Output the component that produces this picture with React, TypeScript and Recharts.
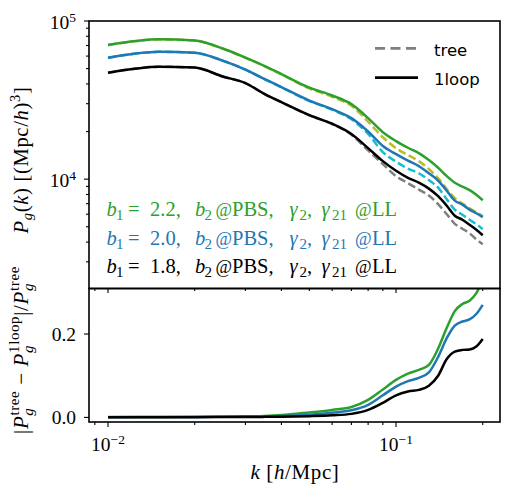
import { LineChart, Line, XAxis, YAxis } from 'recharts';

// k [h/Mpc] sampling
const kValues = [
  0.01, 0.0125, 0.015, 0.02, 0.025, 0.03, 0.035, 0.04, 0.05, 0.06, 0.07, 0.08,
  0.09, 0.1, 0.11, 0.12, 0.13, 0.14, 0.15, 0.16, 0.17, 0.18, 0.19, 0.2,
];

// P_g(k) one-loop
const loopB22 = [70500, 74700, 76600, 75300, 67000, 58700, 51900, 46200, 37900, 33800, 29800, 24300, 19800, 17400, 15800, 14600, 13200, 11800, 10450, 9500, 8970, 8520, 7980, 7360];
const loopB20 = [58600, 62300, 63900, 63000, 56200, 49300, 42900, 38200, 31400, 27700, 24300, 20000, 16200, 14400, 13100, 12100, 10900, 9780, 8450, 7310, 6900, 6420, 6090, 5750];
const loopB18 = [47100, 50000, 51400, 50800, 44600, 40500, 34500, 30700, 25400, 22400, 19300, 15700, 13000, 11300, 10200, 9500, 8710, 7800, 6790, 5870, 5540, 5150, 4790, 4420];

// P_g(k) tree level
const treeB22 = [70400, 74600, 76500, 75200, 66900, 58550, 51700, 45950, 37450, 33200, 29100, 23100, 18400, 15700, 14200, 13000, 11600, 10150, 8650, 7590, 7000, 6550, 6180, 5830];
const treeB20 = [58550, 62250, 63850, 62900, 56100, 49200, 42800, 38050, 31200, 27500, 23900, 19300, 14830, 12900, 11650, 10900, 9860, 8840, 7470, 6410, 5960, 5540, 5190, 4830];
const treeB18 = [47080, 49980, 51380, 50770, 44560, 40460, 34450, 30650, 25320, 22330, 19100, 15200, 12450, 10440, 9430, 8590, 7870, 6950, 6000, 5220, 4860, 4550, 4170, 3880];

// |P_tree - P_1loop| / P_tree
const diffB22 = [0.0008, 0.0009, 0.001, 0.0013, 0.0018, 0.0025, 0.0035, 0.0055, 0.012, 0.018, 0.025, 0.042, 0.067, 0.09, 0.105, 0.114, 0.126, 0.165, 0.215, 0.255, 0.272, 0.28, 0.298, 0.33];
const diffB20 = [0.0006, 0.0007, 0.0008, 0.001, 0.0013, 0.0018, 0.0024, 0.0035, 0.0065, 0.011, 0.017, 0.03, 0.053, 0.074, 0.087, 0.095, 0.108, 0.145, 0.19, 0.22, 0.23, 0.235, 0.248, 0.27];
const diffB18 = [0.0004, 0.0005, 0.0005, 0.0006, 0.0008, 0.001, 0.0013, 0.0017, 0.003, 0.005, 0.0085, 0.018, 0.035, 0.053, 0.062, 0.066, 0.076, 0.1, 0.14, 0.158, 0.162, 0.163, 0.17, 0.188];

const xTicks = [0.009, 0.01, 0.02, 0.03, 0.04, 0.05, 0.06, 0.07, 0.08, 0.09, 0.1, 0.2];
const xMajor: Record<number, string> = { 0.01: '\u22122', 0.1: '\u22121' };
const pTicks = [3000, 4000, 5000, 6000, 7000, 8000, 9000, 10000, 20000, 30000, 40000, 50000, 60000, 70000, 80000, 90000, 100000];
const pMajor: Record<number, string> = { 10000: '4', 100000: '5' };
const rTicks = [0, 0.2];

const topData = kValues.map((k, i) => ({
  k,
  loop22: loopB22[i], loop20: loopB20[i], loop18: loopB18[i],
  tree22: treeB22[i], tree20: treeB20[i], tree18: treeB18[i],
}));
const bottomData = kValues.map((k, i) => ({ k, d22: diffB22[i], d20: diffB20[i], d18: diffB18[i] }));

const SERIF = '"Liberation Serif", "DejaVu Serif", serif';
const SANS = '"DejaVu Sans", sans-serif';
const GREEN = '#2ca02c';
const BLUE = '#1f77b4';
const X_DOMAIN: [number, number] = [0.00859, 0.2296];

function xTick(props: any, withLabel: boolean) {
  const { x, y, payload } = props;
  const exp = xMajor[payload.value];
  return (
    <g>
      <line x1={x} x2={x} y1={y} y2={y + (exp ? 5 : 3)} stroke="#000" strokeWidth={1.1} />
      {withLabel && exp && (
        <text x={x} y={y + 29} textAnchor="middle" fontFamily={SERIF} fontSize={19.5} fill="#000">
          10<tspan dy={-7} fontSize={13.5}>{exp}</tspan>
        </text>
      )}
    </g>
  );
}

function pTick(props: any) {
  const { x, y, payload } = props;
  const exp = pMajor[payload.value];
  return (
    <g>
      <line x1={x - (exp ? 5 : 3)} x2={x} y1={y} y2={y} stroke="#000" strokeWidth={1.1} />
      {exp && (
        <text x={x - 13} y={y + 8} textAnchor="end" fontFamily={SERIF} fontSize={19.5} fill="#000">
          10<tspan dy={-7} fontSize={13.5}>{exp}</tspan>
        </text>
      )}
    </g>
  );
}

function rTick(props: any) {
  const { x, y, payload } = props;
  return (
    <g>
      <line x1={x - 5} x2={x} y1={y} y2={y} stroke="#000" strokeWidth={1.1} />
      <text x={x - 13} y={y + 6.5} textAnchor="end" fontFamily={SERIF} fontSize={19.5} fill="#000">
        {payload.value.toFixed(1)}
      </text>
    </g>
  );
}

function Annotation({ y, b1, color }: { y: number; b1: string; color: string }) {
  const sub = y + 4;
  return (
    <text fontFamily={SERIF} fontSize={20.5} fill={color}>
      <tspan x={106.5} y={y} fontStyle="italic">b</tspan>
      <tspan x={116} y={sub} fontSize={15}>1</tspan>
      <tspan x={128} y={y}>=</tspan>
      <tspan x={150} y={y}>{`${b1},`}</tspan>
      <tspan x={195} y={y} fontStyle="italic">b</tspan>
      <tspan x={204.5} y={sub} fontSize={15}>2</tspan>
      <tspan x={215.5} y={y} fontSize={18}>@</tspan>
      <tspan x={232} y={y}>PBS,</tspan>
      <tspan x={289.5} y={y} fontStyle="italic">γ</tspan>
      <tspan x={299.5} y={sub} fontSize={15}>2</tspan>
      <tspan x={307} y={y}>,</tspan>
      <tspan x={321.5} y={y} fontStyle="italic">γ</tspan>
      <tspan x={332} y={sub} fontSize={15}>21</tspan>
      <tspan x={355} y={y} fontSize={18}>@</tspan>
      <tspan x={372} y={y}>LL</tspan>
    </text>
  );
}

export default function App() {
  const lw = 2.5;
  const dash = '8 3.5';
  return (
    <div style={{ position: 'absolute', left: 0, top: 0, width: 523, height: 500, background: '#fff' }}>
      <div style={{ position: 'absolute', left: 0, top: 0 }}>
        <LineChart width={523} height={300} data={topData} margin={{ top: 21, right: 23, bottom: 0, left: 0 }}>
          <XAxis
            dataKey="k" type="number" scale="log" domain={X_DOMAIN} allowDataOverflow
            ticks={xTicks} interval={0} height={12} tickSize={0} tickMargin={0}
            axisLine={false} tickLine={false} tick={(p: any) => xTick(p, false)}
          />
          <YAxis
            type="number" scale="log" domain={[2050, 100000]} allowDataOverflow
            ticks={pTicks} interval={0} width={89} tickSize={0} tickMargin={0}
            axisLine={false} tickLine={false} tick={pTick}
          />
          <Line dataKey="tree22" stroke="#bcbd22" strokeWidth={lw} strokeDasharray={dash} dot={false} type="monotone" isAnimationActive={false} />
          <Line dataKey="tree20" stroke="#17becf" strokeWidth={lw} strokeDasharray={dash} dot={false} type="monotone" isAnimationActive={false} />
          <Line dataKey="tree18" stroke="#7f7f7f" strokeWidth={lw} strokeDasharray={dash} dot={false} type="monotone" isAnimationActive={false} />
          <Line dataKey="loop22" stroke={GREEN} strokeWidth={lw} dot={false} type="monotone" isAnimationActive={false} />
          <Line dataKey="loop20" stroke={BLUE} strokeWidth={lw} dot={false} type="monotone" isAnimationActive={false} />
          <Line dataKey="loop18" stroke="#000" strokeWidth={lw} dot={false} type="monotone" isAnimationActive={false} />
        </LineChart>
      </div>
      <div style={{ position: 'absolute', left: 0, top: 280 }}>
        <LineChart width={523} height={220} data={bottomData} margin={{ top: 9, right: 23, bottom: 0, left: 0 }}>
          <XAxis
            dataKey="k" type="number" scale="log" domain={X_DOMAIN} allowDataOverflow
            ticks={xTicks} interval={0} height={78} tickSize={0} tickMargin={0}
            axisLine={false} tickLine={false} tick={(p: any) => xTick(p, true)}
          />
          <YAxis
            type="number" domain={[-0.011, 0.308]} allowDataOverflow
            ticks={rTicks} interval={0} width={89} tickSize={0} tickMargin={0}
            axisLine={false} tickLine={false} tick={rTick}
          />
          <Line dataKey="d22" stroke={GREEN} strokeWidth={lw} dot={false} type="monotone" isAnimationActive={false} />
          <Line dataKey="d20" stroke={BLUE} strokeWidth={lw} dot={false} type="monotone" isAnimationActive={false} />
          <Line dataKey="d18" stroke="#000" strokeWidth={lw} dot={false} type="monotone" isAnimationActive={false} />
        </LineChart>
      </div>
      <svg width={523} height={500} style={{ position: 'absolute', left: 0, top: 0, pointerEvents: 'none' }}>
        <rect x={89} y={21} width={411} height={267.5} fill="none" stroke="#000" strokeWidth={1.6} />
        <rect x={89} y={288.5} width={411} height={133.5} fill="none" stroke="#000" strokeWidth={1.6} />

        <line x1={375} x2={418} y1={48.3} y2={48.3} stroke="#7f7f7f" strokeWidth={2.7} strokeDasharray="10 5.5" />
        <text x={434} y={56} fontFamily={SANS} fontSize={16.5} fill="#000">tree</text>
        <line x1={375} x2={418} y1={77.7} y2={77.7} stroke="#000" strokeWidth={2.7} />
        <text x={434} y={85} fontFamily={SANS} fontSize={16.5} fill="#000">1loop</text>

        <Annotation y={216} b1="2.2" color={GREEN} />
        <Annotation y={245} b1="2.0" color={BLUE} />
        <Annotation y={273} b1="1.8" color="#000" />

        <text transform="translate(28,160) rotate(-90)" textAnchor="middle" fontFamily={SERIF} fontSize={20.5} letterSpacing={0.7} fill="#000">
          <tspan fontStyle="italic">P</tspan>
          <tspan dy={4} fontSize={14.5} fontStyle="italic">g</tspan>
          <tspan dy={-4}>(</tspan>
          <tspan fontStyle="italic">k</tspan>
          <tspan>{')  [(Mpc/'}</tspan>
          <tspan fontStyle="italic">h</tspan>
          <tspan>)</tspan>
          <tspan dy={-8} fontSize={14.5}>3</tspan>
          <tspan dy={8}>]</tspan>
        </text>

        <text transform="translate(28,350) rotate(-90)" textAnchor="middle" fontFamily={SERIF} fontSize={21} letterSpacing={0.6} fill="#000">
          <tspan>|</tspan>
          <tspan fontStyle="italic">P</tspan>
          <tspan dy={5} fontSize={15} fontStyle="italic">g</tspan>
          <tspan dx={-8} dy={-14} fontSize={15}>tree</tspan>
          <tspan dy={9}>{' \u2212 '}</tspan>
          <tspan fontStyle="italic">P</tspan>
          <tspan dy={5} fontSize={15} fontStyle="italic">g</tspan>
          <tspan dx={-8} dy={-14} fontSize={15}>1loop</tspan>
          <tspan dy={9}>|/</tspan>
          <tspan fontStyle="italic">P</tspan>
          <tspan dy={5} fontSize={15} fontStyle="italic">g</tspan>
          <tspan dx={-8} dy={-14} fontSize={15}>tree</tspan>
        </text>

        <text x={295} y={479} textAnchor="middle" fontFamily={SERIF} fontSize={21} letterSpacing={0.6} fill="#000">
          <tspan fontStyle="italic">k</tspan>
          <tspan>{'  ['}</tspan>
          <tspan fontStyle="italic">h</tspan>
          <tspan>/Mpc]</tspan>
        </text>
      </svg>
    </div>
  );
}
